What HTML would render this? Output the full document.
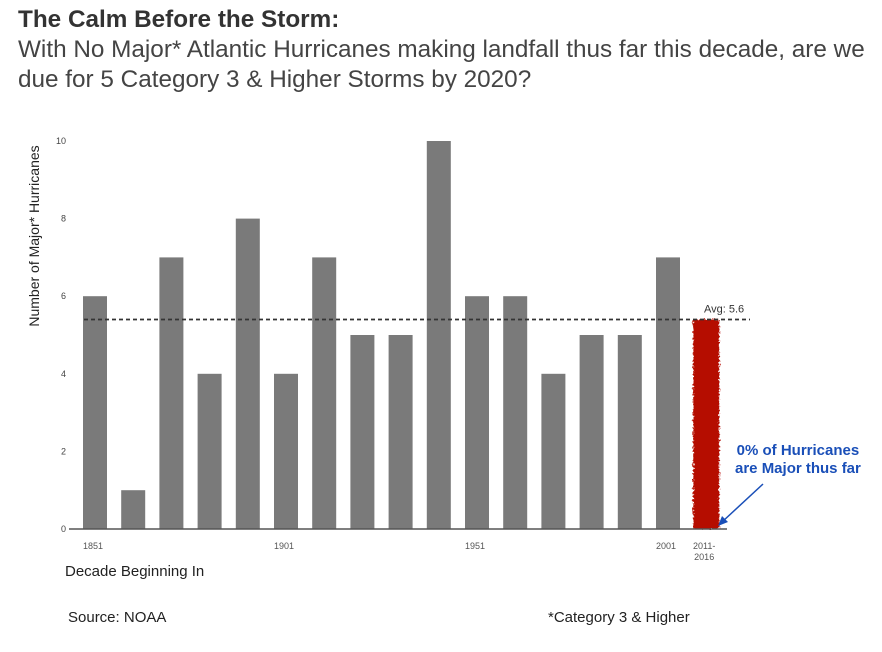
<!DOCTYPE html>
<html><head><meta charset="utf-8"><style>
body{margin:0;background:#fff;font-family:"Liberation Sans",sans-serif;}
.t{position:absolute;white-space:nowrap;}
</style></head><body>
<div style="position:relative;width:882px;height:652px;overflow:hidden">
<div class="t" style="left:18px;top:6px;font-size:24.3px;font-weight:bold;color:#333">The Calm Before the Storm:</div>
<div class="t" style="left:18px;top:35px;font-size:24.3px;color:#444;line-height:30px">With No Major* Atlantic Hurricanes making landfall thus far this decade, are we<br>due for 5 Category 3 &amp; Higher Storms by 2020?</div>
<svg id="chart" width="882" height="652" style="position:absolute;left:0;top:0">
<defs><filter id="rough"><feTurbulence type="fractalNoise" baseFrequency="0.5" numOctaves="2" seed="3"/><feDisplacementMap in="SourceGraphic" scale="5"/></filter></defs>
</svg>
<div class="t" style="left:65px;top:563px;font-size:15px;color:#222">Decade Beginning In</div>
<div class="t" style="left:68px;top:609px;font-size:15px;color:#222">Source: NOAA</div>
<div class="t" style="left:548px;top:609px;font-size:15px;color:#222">*Category 3 &amp; Higher</div>
<div class="t" style="left:735px;top:442px;font-size:15px;font-weight:bold;color:#1a4fb8;text-align:center;line-height:18px">0% of Hurricanes<br>are Major thus far</div>
</div>
<script>
const categories=["1851","1861","1871","1881","1891","1901","1911","1921","1931","1941","1951","1961","1971","1981","1991","2001"];
const values=[6,1,7,4,8,4,7,5,5,10,6,6,4,5,5,7];
const xLabels=["1851","1901","1951","2001"];
const yTicks=[0,2,4,6,8,10];
const avgValue=5.4;
const avgLabel="Avg: 5.6";
const currentLabel=["2011-","2016"];
const NS="http://www.w3.org/2000/svg";
const svg=document.getElementById('chart');
const y0=529,yScale=38.8,x0=95,step=38.2,bw=24;
const y=v=>y0-v*yScale;
const xc=i=>x0+i*step;
function mk(t,a){const e=document.createElementNS(NS,t);for(const k in a)e.setAttribute(k,a[k]);svg.appendChild(e);return e;}
yTicks.forEach(v=>{const e=mk('text',{x:66,y:y(v)+3,'text-anchor':'end','font-size':9,fill:'#444'});e.textContent=v;

});
const yt=mk('text',{x:0,y:0,transform:'translate(39,236) rotate(-90)','text-anchor':'middle','font-size':14,fill:'#222'});yt.textContent="Number of Major* Hurricanes";


values.forEach((v,i)=>{const r=mk('rect',{x:xc(i)-bw/2,y:y(v),width:bw,height:v*yScale,fill:'#7a7a7a'});

});
const ri=categories.length;
const red=mk('rect',{x:xc(ri)-bw/2-1,y:y(avgValue),width:bw+2,height:avgValue*yScale,fill:'#b50d00',filter:'url(#rough)'});


const ax=mk('line',{x1:69,x2:727,y1:y0,y2:y0,stroke:'#555','stroke-width':1.5});


const av=mk('line',{x1:84,x2:750,y1:y(avgValue),y2:y(avgValue),stroke:'#333','stroke-width':1.8,'stroke-dasharray':'4,3'});


const al=mk('text',{x:704,y:y(avgValue)-7,'font-size':11,fill:'#333'});al.textContent=avgLabel;


xLabels.forEach(l=>{const i=categories.indexOf(l);const e=mk('text',{x:xc(i)-2,y:549,'text-anchor':'middle','font-size':9,fill:'#555'});e.textContent=l;

});
currentLabel.forEach((l,k)=>{const e=mk('text',{x:xc(ri)-2,y:549+k*11,'text-anchor':'middle','font-size':9,fill:'#555'});e.textContent=l;

});
const ar=mk('line',{x1:763,y1:484,x2:722,y2:522,stroke:'#1a4fb8','stroke-width':1.5});


const ah=mk('polygon',{points:'718,526 722,516 728,522',fill:'#1a4fb8'});


</script>
</body></html>
